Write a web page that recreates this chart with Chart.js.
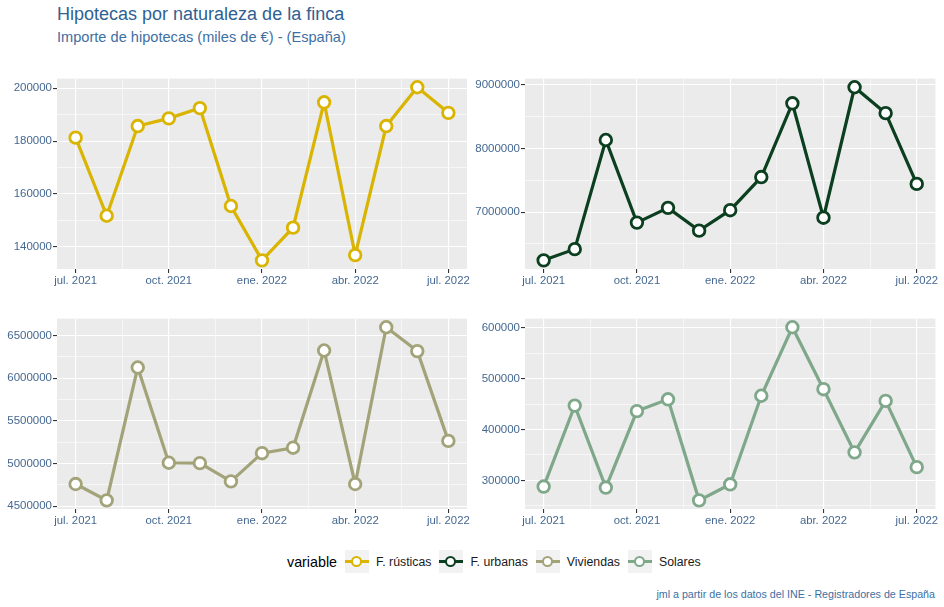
<!DOCTYPE html>
<html>
<head>
<meta charset="utf-8">
<script src="https://cdn.jsdelivr.net/npm/chart.js@4/dist/chart.umd.min.js"></script>
<style>
  html, body { margin:0; padding:0; background:#fff; }
  body { width:944px; height:607px; position:relative; overflow:hidden; font-family:"Liberation Sans", Arial, sans-serif; }
  canvas { position:absolute; }
  #title { position:absolute; left:57px; top:4px; font-size:18px; color:#2f6193; white-space:nowrap; }
  #subtitle { position:absolute; left:57px; top:29px; font-size:14.6px; color:#3d6fa3; white-space:nowrap; }
  #legend { position:absolute; left:287px; top:550px; height:23px; display:flex; align-items:center; white-space:nowrap; }
  #legend .ttl { font-size:14.3px; color:#000; margin-right:8px; }
  .key { width:24px; height:23px; background:#f2f2f2; position:relative; margin-right:7px; }
  .key .ln { position:absolute; left:0; right:0; top:10px; height:3px; }
  .key .pt { position:absolute; left:6px; top:5.5px; width:7px; height:7px; border-radius:50%; background:#fff; border-width:2.5px; border-style:solid; }
  .lab { font-size:12.3px; color:#1a1a1a; margin-right:8px; }
  #caption { position:absolute; right:9px; top:588px; font-size:10.7px; color:#3d6fa3; white-space:nowrap; }
</style>
</head>
<body>
<div id="title">Hipotecas por naturaleza de la finca</div>
<div id="subtitle">Importe de hipotecas (miles de €) - (España)</div>

<canvas id="c1" width="480" height="220" style="left:0px;top:70px"></canvas>
<canvas id="c2" width="476" height="220" style="left:468px;top:70px"></canvas>
<canvas id="c3" width="480" height="220" style="left:0px;top:310px"></canvas>
<canvas id="c4" width="476" height="220" style="left:468px;top:310px"></canvas>

<div id="legend"></div>
<div id="caption">jml a partir de los datos del INE - Registradores de España</div>

<script>
// ---- data ----
const months = ['jul. 2021','ago. 2021','sep. 2021','oct. 2021','nov. 2021','dic. 2021','ene. 2022','feb. 2022','mar. 2022','abr. 2022','may. 2022','jun. 2022','jul. 2022'];
const xTickLabels = ['jul. 2021','oct. 2021','ene. 2022','abr. 2022','jul. 2022'];
const xTickMonths = [0, 3, 6, 9, 12];

const seriesNames = ['F. rústicas','F. urbanas','Viviendas','Solares'];
const rusticas  = [181300,151700,185700,188600,192500,155400,134800,147200,194700,136800,185700,200400,190700];
const urbanas   = [6243000,6419000,8134000,6836000,7068000,6710000,7031000,7552000,8711000,6913000,8963000,8556000,7444000];
const viviendas = [4760000,4569000,6124000,5009000,5005000,4791000,5121000,5185000,6323000,4760000,6595000,6316000,5265000];
const solares   = [287800,447100,285900,436300,459500,260700,292300,466500,601300,479400,355000,456400,326000];

const yTicksRusticas  = [140000,160000,180000,200000];
const yTicksUrbanas   = [7000000,8000000,9000000];
const yTicksViviendas = [4500000,5000000,5500000,6000000,6500000];
const yTicksSolares   = [300000,400000,500000,600000];

const colors = ['#d9b400','#0b3f1f','#a3a37a','#7fa88b'];

// ---- styling ----
const AXIS_TEXT = '#456891';
const FONT = '"Liberation Sans", Arial, sans-serif';

const bgPlugin = {
  id: 'panelBg',
  beforeDraw(chart) {
    const a = chart.chartArea, c = chart.ctx;
    c.save(); c.fillStyle = '#ebebeb';
    c.fillRect(a.left, a.top, a.right - a.left, a.bottom - a.top);
    c.restore();
  }
};

function withMinors(majors, lo, hi) {
  const step = majors[1] - majors[0];
  const all = [];
  for (let i = 0; i < majors.length; i++) {
    all.push(majors[i]);
    if (i < majors.length - 1) all.push(majors[i] + step / 2);
  }
  const below = majors[0] - step / 2, above = majors[majors.length - 1] + step / 2;
  if (below >= lo) all.unshift(below);
  if (above <= hi) all.push(above);
  return all.filter(v => v >= lo && v <= hi);
}

function makePanel(id, values, color, yMajors, pad) {
  const n = values.length;
  const xExp = (n - 1) * 0.05;
  const xMin = -xExp, xMax = (n - 1) + xExp;
  const vmin = Math.min(...values), vmax = Math.max(...values);
  const yExp = (vmax - vmin) * 0.05;
  const yMin = vmin - yExp, yMax = vmax + yExp;
  const xAll = withMinors(xTickMonths, xMin, xMax);
  const yAll = withMinors(yMajors, yMin, yMax);
  const isXMajor = v => xTickMonths.includes(v);
  const isYMajor = v => yMajors.includes(v);

  new Chart(document.getElementById(id), {
    type: 'line',
    data: {
      datasets: [{
        label: months.join(','),
        data: values.map((v, i) => ({ x: i, y: v })),
        borderColor: color,
        borderWidth: 3.2,
        pointRadius: 5.8,
        pointBorderWidth: 2.8,
        pointBackgroundColor: '#ffffff',
        pointBorderColor: color,
        tension: 0,
        clip: false
      }]
    },
    options: {
      responsive: false,
      animation: false,
      events: [],
      layout: { padding: pad },
      plugins: { legend: { display: false }, tooltip: { enabled: false } },
      scales: {
        x: {
          type: 'linear', min: xMin, max: xMax,
          afterBuildTicks: s => { s.ticks = xAll.map(v => ({ value: v })); },
          afterFit: s => { s.height = 21; s.paddingLeft = 0; s.paddingRight = 0; },
          border: { display: false },
          grid: {
            color: '#ffffff',
            lineWidth: c => (c.tick && isXMajor(c.tick.value)) ? 1.1 : 0.55,
            drawTicks: true, tickLength: 4,
            tickColor: c => (c.tick && isXMajor(c.tick.value)) ? '#333333' : 'rgba(0,0,0,0)',
            tickWidth: 1.1
          },
          ticks: {
            autoSkip: false, maxRotation: 0, minRotation: 0, padding: 1,
            color: AXIS_TEXT, font: { family: FONT, size: 11.3 },
            callback: v => { const k = xTickMonths.indexOf(v); return k >= 0 ? xTickLabels[k] : ''; }
          }
        },
        y: {
          type: 'linear', min: yMin, max: yMax,
          afterBuildTicks: s => { s.ticks = yAll.map(v => ({ value: v })); },
          afterFit: s => { s.width = 57; s.paddingTop = 0; s.paddingBottom = 0; },
          border: { display: false },
          grid: {
            color: '#ffffff',
            lineWidth: c => (c.tick && isYMajor(c.tick.value)) ? 1.1 : 0.55,
            drawTicks: true, tickLength: 4,
            tickColor: c => (c.tick && isYMajor(c.tick.value)) ? '#333333' : 'rgba(0,0,0,0)',
            tickWidth: 1.1
          },
          ticks: {
            autoSkip: false, padding: 1,
            color: AXIS_TEXT, font: { family: FONT, size: 11.5 },
            callback: v => isYMajor(v) ? String(v) : ''
          }
        }
      }
    },
    plugins: [bgPlugin]
  });
}

makePanel('c1', rusticas,  colors[0], yTicksRusticas,  { left: 0, top: 6, right: 13, bottom: 0 });
makePanel('c2', urbanas,   colors[1], yTicksUrbanas,   { left: 0, top: 6, right: 8,  bottom: 0 });
makePanel('c3', viviendas, colors[2], yTicksViviendas, { left: 0, top: 7, right: 13, bottom: 0 });
makePanel('c4', solares,   colors[3], yTicksSolares,   { left: 0, top: 7, right: 8,  bottom: 0 });

// ---- legend ----
const lg = document.getElementById('legend');
const t = document.createElement('span'); t.className = 'ttl'; t.textContent = 'variable'; lg.appendChild(t);
seriesNames.forEach((name, i) => {
  const k = document.createElement('div'); k.className = 'key';
  const ln = document.createElement('div'); ln.className = 'ln'; ln.style.background = colors[i];
  const pt = document.createElement('div'); pt.className = 'pt'; pt.style.borderColor = colors[i];
  k.appendChild(ln); k.appendChild(pt); lg.appendChild(k);
  const l = document.createElement('span'); l.className = 'lab'; l.textContent = name; lg.appendChild(l);
});
</script>
</body>
</html>
